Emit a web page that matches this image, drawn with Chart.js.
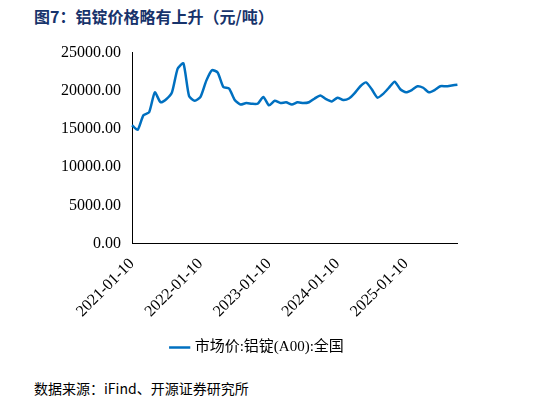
<!DOCTYPE html>
<html>
<head>
<meta charset="utf-8">
<script src="https://cdn.jsdelivr.net/npm/chart.js@4"></script>
<style>
  body { margin: 0; width: 546px; height: 404px; background: #fff; position: relative; overflow: hidden; }
  #title { position: absolute; left: 34px; top: 4px; font: bold 16px "Noto Sans CJK SC"; color: #17336b; }
  #source { position: absolute; left: 34px; top: 378px; font: 14px "Noto Sans CJK SC", "Liberation Serif"; color: #000; }
  #box { position: absolute; left: 58px; top: 40px; width: 416px; height: 325px; }
</style>
</head>
<body>
<div id="title">图7：铝锭价格略有上升（元/吨）</div>
<div id="box"><canvas id="c"></canvas></div>
<div id="source">数据来源：iFind、开源证券研究所</div>
<script>
// 月度取值
const months = [];
for (let y = 2021; y <= 2025; y++) {
    for (let m = 1; m <= 12; m++) {
        if (y === 2025 && m > 10) break;
        months.push(y + "-" + String(m).padStart(2, "0") + "-10");
    }
}
const prices = [
    15500, 14900, 16800, 17200, 19800, 18500, 18900, 19800, 22900, 23600, 19300, 18700,
    19200, 21300, 22700, 22400, 20500, 20300, 18800, 18200, 18400, 18300, 18300, 19200,
    18100, 18700, 18400, 18500, 18200, 18500, 18400, 18500, 19000, 19400, 18900, 18600,
    19100, 18800, 19000, 19700, 20600, 21100, 20200, 19100, 19600, 20400, 21200, 20200,
    19800, 20100, 20600, 20400, 19800, 20100, 20600, 20600, 20700, 20800
];
const yTicks = [0, 5000, 10000, 15000, 20000, 25000];

const serif = "'Liberation Serif', 'Noto Sans CJK SC'";
new Chart(document.getElementById("c"), {
    type: "line",
    data: {
        labels: months,
        datasets: [{
            label: "市场价:铝锭(A00):全国",
            data: prices,
            borderColor: "#0070c0",
            backgroundColor: "#0070c0",
            borderWidth: 2.5,
            pointRadius: 0,
            tension: 0.2
        }]
    },
    options: {
        responsive: true,
        maintainAspectRatio: false,
        animation: false,
        layout: { padding: { left: 0, right: 16, top: 12 } },
        plugins: {
            legend: {
                position: "bottom",
                labels: {
                    usePointStyle: true,
                    pointStyle: "line",
                    color: "#000",
                    font: { family: serif, size: 15 },
                    padding: 16
                }
            },
            tooltip: { enabled: false }
        },
        scales: {
            x: {
                grid: { display: false },
                border: { color: "#000" },
                ticks: {
                    autoSkip: false,
                    minRotation: 45,
                    maxRotation: 45,
                    color: "#000",
                    font: { family: serif, size: 16 },
                    callback: function (v, i) {
                        const l = months[i];
                        return l.slice(5) === "01-10" ? l : "";
                    }
                }
            },
            y: {
                min: 0,
                max: 25000,
                grid: { display: false },
                border: { color: "#000" },
                afterBuildTicks: function (axis) {
                    axis.ticks = yTicks.map(v => ({ value: v }));
                },
                ticks: {
                    color: "#000",
                    font: { family: serif, size: 16 },
                    callback: v => v.toFixed(2)
                }
            }
        }
    }
});
</script>
</body>
</html>
